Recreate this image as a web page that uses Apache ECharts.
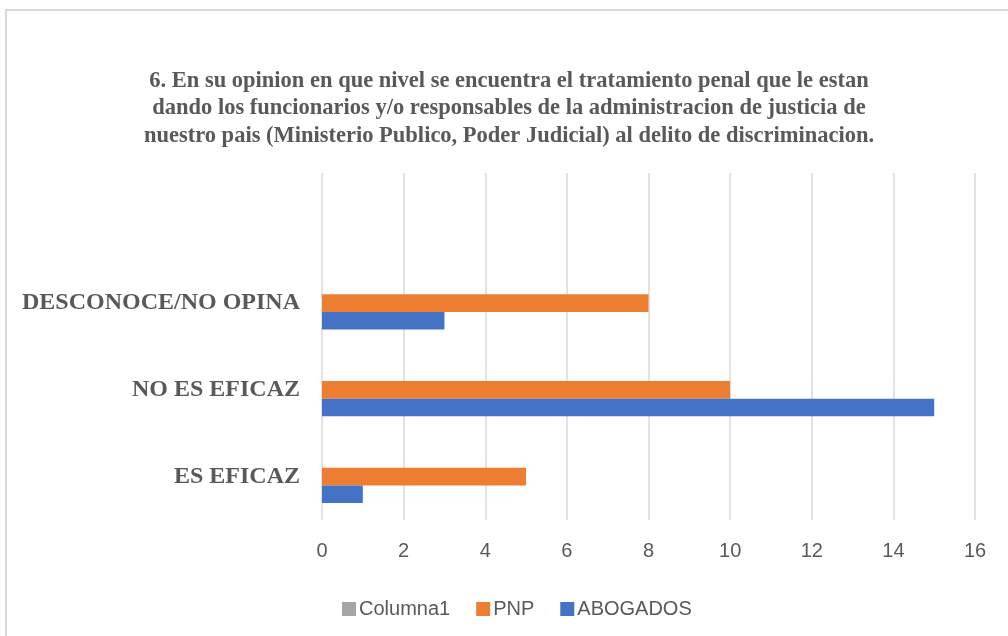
<!DOCTYPE html>
<html>
<head>
<meta charset="utf-8">
<script src="https://cdn.jsdelivr.net/npm/echarts@6/dist/echarts.min.js"></script>
<style>
  html, body { margin:0; padding:0; width:1008px; height:636px; overflow:hidden; background:#fff; }
  #frame { position:absolute; left:5px; top:9px; width:1020px; height:650px; border:2px solid #d9d9d9; box-sizing:border-box; }
  #chart { position:absolute; left:0; top:0; width:1008px; height:636px; }
</style>
</head>
<body>
<div id="frame"></div>
<div id="chart"></div>
<script>
const titleText = "6. En su opinion en que nivel se encuentra el tratamiento penal que le estan\ndando los funcionarios y/o responsables de la administracion de justicia de\nnuestro pais (Ministerio Publico, Poder Judicial) al delito de discriminacion.";
const categories = ["ES EFICAZ", "NO ES EFICAZ", "DESCONOCE/NO OPINA", ""];
const seriesNames = ["Columna1", "PNP", "ABOGADOS"];
const columna1 = [null, null, null, null];
const pnp = [5, 10, 8, null];
const abogados = [1, 15, 3, null];
const xTicks = { min: 0, max: 16, interval: 2 };

const chart = echarts.init(document.getElementById('chart'), null, { renderer: 'canvas' });
chart.setOption({
  backgroundColor: 'transparent',
  animation: false,
  title: {
    text: titleText,
    left: 504,
    top: 62,
    textAlign: 'center',
    textStyle: {
      fontFamily: '"Liberation Serif", "Times New Roman", serif',
      fontWeight: 'bold',
      fontSize: 22.5,
      lineHeight: 27.5,
      color: '#595959'
    }
  },
  legend: {
    data: seriesNames,
    left: 337,
    top: 594,
    icon: 'rect',
    itemWidth: 14,
    itemHeight: 14,
    itemGap: 26,
    textStyle: { fontFamily: '"Liberation Sans", Arial, sans-serif', fontSize: 20, color: '#595959', padding: [0, 0, 0, -2] }
  },
  grid: { left: 322, right: 33, top: 173, bottom: 116, containLabel: false },
  xAxis: {
    type: 'value',
    min: xTicks.min, max: xTicks.max, interval: xTicks.interval,
    axisLine: { show: false },
    axisTick: { show: false },
    axisLabel: { margin: 21, fontFamily: '"Liberation Sans", Arial, sans-serif', fontSize: 20, color: '#595959' },
    splitLine: { show: true, lineStyle: { color: '#d9d9d9', width: 1.5 } }
  },
  yAxis: {
    type: 'category',
    data: categories,
    axisLine: { show: false },
    axisTick: { show: false },
    axisLabel: {
      margin: 22,
      fontFamily: '"Liberation Serif", "Times New Roman", serif',
      fontWeight: 'bold',
      fontSize: 24,
      color: '#595959'
    }
  },
  series: [
    { name: 'Columna1', type: 'bar', data: columna1, itemStyle: { color: '#A5A5A5' }, barWidth: 17.6, barGap: '0%' },
    { name: 'PNP', type: 'bar', data: pnp, itemStyle: { color: '#ED7D31' }, barWidth: 17.6, barGap: '0%' },
    { name: 'ABOGADOS', type: 'bar', data: abogados, itemStyle: { color: '#4472C4' }, barWidth: 17.6, barGap: '0%' }
  ]
});
</script>
</body>
</html>
